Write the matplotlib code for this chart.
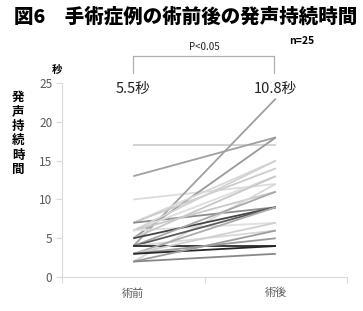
import matplotlib
matplotlib.use("Agg")
import matplotlib.pyplot as plt

plt.rcParams["font.family"] = ["Noto Sans CJK JP", "DejaVu Sans"]

categories = ["術前", "術後"]
pre = [17, 13, 10, 4, 5, 7, 7, 7, 6, 6, 6, 6, 5, 2, 5, 4, 4, 4, 4, 3, 3, 3, 3, 2, 2]
post = [17, 18, 12, 23, 18, 15, 14, 9, 13, 15, 11, 7, 13, 12, 9, 11, 9, 6, 4, 9, 7, 5, 4, 6, 3]
shades = ["#cfcfcf", "#a0a0a0", "#dcdcdc", "#a0a0a0", "#999999", "#d8d8d8", "#cccccc",
          "#8c8c8c", "#dedede", "#d2d2d2", "#c8c8c8", "#e0e0e0", "#c8c8c8", "#d8d8d8",
          "#444444", "#a8a8a8", "#5a5a5a", "#d8d8d8", "#2a2a2a", "#acacac", "#d0d0d0",
          "#999999", "#262626", "#9c9c9c", "#888888"]
means = ["5.5秒", "10.8秒"]

fig = plt.figure(figsize=(3.63, 3.11), dpi=100)
ax = fig.add_axes([0.171, 0.109, 0.785, 0.624])

xpos = [0.5, 1.5]
for a, b, c in zip(pre, post, shades):
    ax.plot(xpos, [a, b], color=c, lw=1.3, solid_capstyle="butt")

ax.set_xlim(0, 2)
ax.set_ylim(0, 25)
ax.set_yticks(range(0, 26, 5))
ax.set_xticks([0, 1, 2])
ax.set_xticklabels(["", "", ""])
ax.tick_params(axis="x", length=4, color="#d9d9d9", direction="out")
ax.tick_params(axis="y", length=4, color="#d9d9d9", labelcolor="#595959", labelsize=8.5, pad=3)
for s in ["top", "right"]:
    ax.spines[s].set_visible(False)
for s in ["left", "bottom"]:
    ax.spines[s].set_color("#d9d9d9")
for x, lab in zip(xpos, categories):
    ax.text(x, -1.4, lab, ha="center", va="top", fontsize=8, color="#595959")

for x, m in zip(xpos, means):
    ax.text(x, 24.2, m, ha="center", va="center", fontsize=10.5, color="#222222")

# significance bracket
ax.plot([0.5, 0.5, 1.49, 1.49], [26.3, 28.5, 28.5, 26.3], color="#b0b0b0", lw=0.9, clip_on=False)
ax.text(1.0, 29.0, "P<0.05", ha="center", va="bottom", fontsize=7, color="#222222")

fig.text(0.51, 0.945, "図6　手術症例の術前後の発声持続時間", ha="center", va="center",
         fontsize=14, fontweight="heavy")
fig.text(0.83, 0.868, "n=25", ha="center", va="center", fontsize=7.5, fontweight="bold")
fig.text(0.157, 0.775, "秒", ha="center", va="center", fontsize=7.5, fontweight="bold")
fig.text(0.05, 0.57, "\n".join("発声持続時間"), ha="center", va="center", fontsize=9,
         fontweight="bold", linespacing=1.15)

fig.savefig("out.png", dpi=100)
